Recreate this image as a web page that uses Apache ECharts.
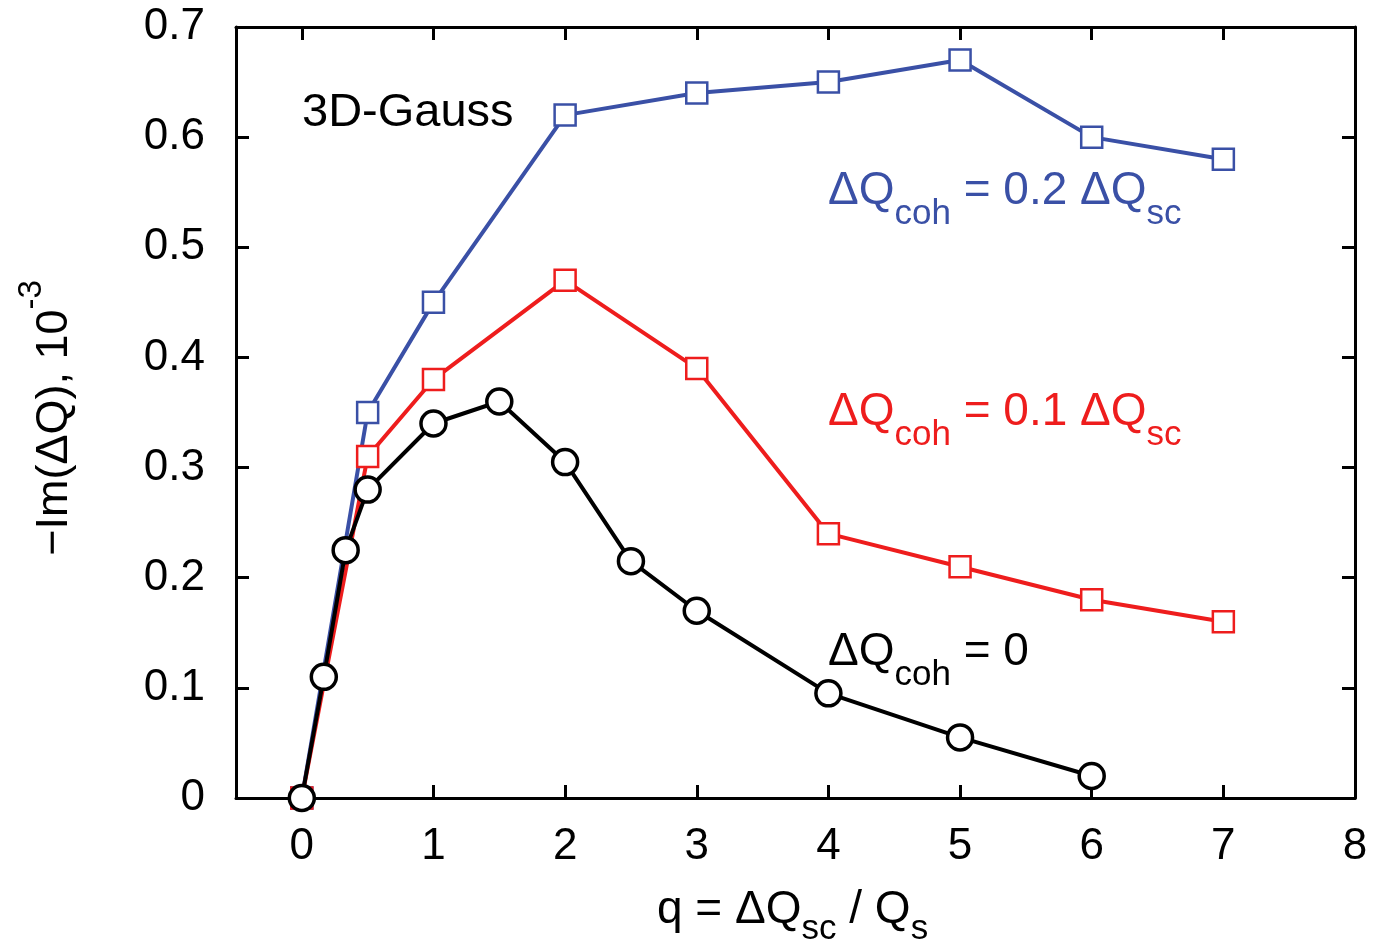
<!DOCTYPE html>
<html>
<head>
<meta charset="utf-8">
<script src="https://cdn.jsdelivr.net/npm/echarts@6/dist/echarts.min.js"></script>
<style>
html, body { margin: 0; padding: 0; background: #fff; }
#main { width: 1377px; height: 939px; }
</style>
</head>
<body>
<div id="main"></div>
<script>
// q values and -Im(dQ) for each curve
var qBlack = [0, 0.167, 0.333, 0.5, 1, 1.5, 2, 2.5, 3, 4, 5, 6];
var vBlack = [0, 0.11, 0.225, 0.28, 0.34, 0.36, 0.305, 0.215, 0.17, 0.095, 0.055, 0.02];
var qRed = [0, 0.5, 1, 2, 3, 4, 5, 6, 7];
var vRed = [0, 0.31, 0.38, 0.47, 0.39, 0.24, 0.21, 0.18, 0.16];
var qBlue = [0, 0.5, 1, 2, 3, 4, 5, 6, 7];
var vBlue = [0, 0.35, 0.45, 0.62, 0.64, 0.65, 0.67, 0.60, 0.58];
var xTicks = [0, 1, 2, 3, 4, 5, 6, 7, 8];
var yTicks = [0, 0.1, 0.2, 0.3, 0.4, 0.5, 0.6, 0.7];

var FONT = '"Liberation Sans", Arial, sans-serif';
var BLUE = '#3a50a6';
var RED = '#ee1d1d';

function pairs(xs, ys) {
    return xs.map(function (x, i) { return [x, ys[i]]; });
}

var chart = echarts.init(document.getElementById('main'));

var axisLine = { show: true, onZero: false, lineStyle: { color: '#000', width: 3 } };
var tick = { show: true, inside: true, length: 13, lineStyle: { color: '#000', width: 3 } };

// rich text pieces for the curve labels
var subStyle = function (color) {
    return { fontSize: 35, fill: color, fontFamily: FONT, verticalAlign: 'bottom', lineHeight: 64 };
};
var mainStyle = function (color) {
    return { fontSize: 46, fill: color, fontFamily: FONT, verticalAlign: 'top', lineHeight: 64 };
};

var blueData = pairs(qBlue, vBlue);
blueData[0] = { value: blueData[0], itemStyle: { color: BLUE } };

var option = {
    animation: false,
    backgroundColor: '#fff',
    grid: { left: 236, right: 22, top: 27, bottom: 141 },
    xAxis: [{
        type: 'value', min: -0.5, max: 8,
        axisLine: axisLine,
        axisTick: Object.assign({ customValues: xTicks }, tick),
        axisLabel: { customValues: xTicks, color: '#000', fontSize: 44, fontFamily: FONT, margin: 27 },
        splitLine: { show: false }
    }, {
        type: 'value', min: -0.5, max: 8, position: 'top',
        axisLine: axisLine,
        axisTick: Object.assign({ customValues: xTicks }, tick),
        axisLabel: { show: false },
        splitLine: { show: false }
    }],
    yAxis: [{
        type: 'value', min: 0, max: 0.7,
        axisLine: axisLine,
        axisTick: Object.assign({ customValues: yTicks }, tick),
        axisLabel: {
            customValues: yTicks, color: '#000', fontSize: 44, fontFamily: FONT, margin: 31,
            formatter: function (v) { return v === 0 ? '0' : v.toFixed(1); }
        },
        splitLine: { show: false }
    }, {
        type: 'value', min: 0, max: 0.7, position: 'right',
        axisLine: axisLine,
        axisTick: Object.assign({ customValues: yTicks }, tick),
        axisLabel: { show: false },
        splitLine: { show: false }
    }],
    series: [{
        name: 'blue', type: 'line',
        data: blueData,
        symbol: 'rect', symbolSize: 21,
        lineStyle: { color: BLUE, width: 4 },
        itemStyle: { color: '#fff', borderColor: BLUE, borderWidth: 2.5 },
        z: 2
    }, {
        name: 'red', type: 'line',
        data: pairs(qRed, vRed),
        symbol: 'rect', symbolSize: 21,
        lineStyle: { color: RED, width: 4 },
        itemStyle: { color: '#fff', borderColor: RED, borderWidth: 2.5 },
        z: 3
    }, {
        name: 'black', type: 'line',
        data: pairs(qBlack, vBlack),
        symbol: 'circle', symbolSize: 25,
        lineStyle: { color: '#000', width: 4 },
        itemStyle: { color: '#fff', borderColor: '#000', borderWidth: 3.5 },
        z: 4
    }],
    graphic: [{
        type: 'text', left: 302, top: 90,
        style: { text: '3D-Gauss', fontSize: 47, fontFamily: FONT, fill: '#000' }
    }, {
        type: 'text', left: 828, top: 168,
        style: {
            text: '{m|ΔQ}{s|coh}{m| = 0.2 ΔQ}{s|sc}',
            rich: { m: mainStyle(BLUE), s: subStyle(BLUE) }
        }
    }, {
        type: 'text', left: 828, top: 389,
        style: {
            text: '{m|ΔQ}{s|coh}{m| = 0.1 ΔQ}{s|sc}',
            rich: { m: mainStyle(RED), s: subStyle(RED) }
        }
    }, {
        type: 'text', left: 828, top: 629,
        style: {
            text: '{m|ΔQ}{s|coh}{m| = 0}',
            rich: { m: mainStyle('#000'), s: subStyle('#000') }
        }
    }, {
        type: 'text', left: 657, top: 887,
        style: {
            text: '{m|q = ΔQ}{s|sc}{m| / Q}{s|s}',
            rich: {
                m: { fontSize: 46, fill: '#000', fontFamily: FONT, verticalAlign: 'top', lineHeight: 60 },
                s: { fontSize: 35, fill: '#000', fontFamily: FONT, verticalAlign: 'bottom', lineHeight: 60 }
            }
        }
    }, {
        type: 'text', x: 46, y: 418, rotation: Math.PI / 2,
        style: {
            text: '{m|−Im(ΔQ), 10}{p|-3}',
            align: 'center', verticalAlign: 'middle',
            rich: {
                m: { fontSize: 45, fill: '#000', fontFamily: FONT, verticalAlign: 'bottom', lineHeight: 62 },
                p: { fontSize: 33, fill: '#000', fontFamily: FONT, verticalAlign: 'top', lineHeight: 62 }
            }
        }
    }]
};

chart.setOption(option);
</script>
</body>
</html>
